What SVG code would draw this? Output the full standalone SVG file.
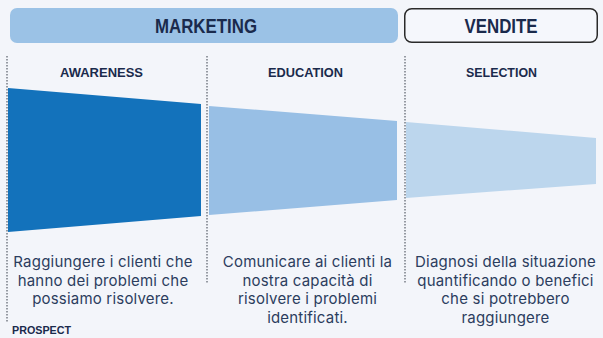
<svg xmlns="http://www.w3.org/2000/svg" width="603" height="338" viewBox="0 0 603 338">
<style>
.hdr{font-family:"Liberation Sans",Arial,sans-serif;font-weight:bold;fill:#1a2a4c;text-anchor:middle}
.big{font-size:20px}
.sub{font-size:13px}
.body{font-family:Inter,Roboto,"Liberation Sans",sans-serif;font-size:15px;letter-spacing:0.2px;fill:#2c3d5e;text-anchor:middle}
.dot{stroke:#777c85;stroke-width:1.5;stroke-dasharray:1.5 1.5;fill:none}
</style>
<rect x="0" y="0" width="603" height="338" fill="#f3f5fa"/>
<g id="marketing">
<rect x="10" y="8" width="388" height="35" rx="7" fill="#9bc2e6"/>
<text class="hdr big" x="206" y="33" textLength="102" lengthAdjust="spacingAndGlyphs">MARKETING</text>
</g>
<g id="vendite">
<rect x="404.75" y="8.75" width="192.5" height="33.5" rx="7" fill="#f5f7fc" stroke="#2a2a2a" stroke-width="1.5"/>
<text class="hdr big" x="501" y="33" textLength="73" lengthAdjust="spacingAndGlyphs">VENDITE</text>
</g>
<g id="dividers">
<line class="dot" x1="7" y1="56" x2="7" y2="323"/>
<line class="dot" x1="207" y1="56" x2="207" y2="283"/>
<line class="dot" x1="405" y1="56" x2="405" y2="283"/>
</g>
<g id="awareness">
<text class="hdr sub" x="101.5" y="76.5" textLength="83" lengthAdjust="spacingAndGlyphs">AWARENESS</text>
<polygon points="8,88 201,104 201,216 8,232" fill="#1372bb"/>
<text class="body" x="103" y="267">Raggiungere i clienti che</text>
<text class="body" x="103" y="285.5">hanno dei problemi che</text>
<text class="body" x="103" y="304">possiamo risolvere.</text>
</g>
<g id="education">
<text class="hdr sub" x="305.5" y="76.5" textLength="75" lengthAdjust="spacingAndGlyphs">EDUCATION</text>
<polygon points="209,106 397,121 397,200 209,215" fill="#98bfe5"/>
<text class="body" x="307.5" y="267">Comunicare ai clienti la</text>
<text class="body" x="307.5" y="285.5">nostra capacità di</text>
<text class="body" x="307.5" y="304">risolvere i problemi</text>
<text class="body" x="307.5" y="322.5">identificati.</text>
</g>
<g id="selection">
<text class="hdr sub" x="501.5" y="76.5" textLength="71" lengthAdjust="spacingAndGlyphs">SELECTION</text>
<polygon points="406,122 596,138 596,184 406,198" fill="#bcd6ed"/>
<text class="body" x="505.5" y="267">Diagnosi della situazione</text>
<text class="body" x="505.5" y="285.5">quantificando o benefici</text>
<text class="body" x="505.5" y="304">che si potrebbero</text>
<text class="body" x="505.5" y="322.5">raggiungere</text>
</g>
<g id="prospect">
<text class="hdr" style="font-size:10.5px;text-anchor:start" x="12" y="334" textLength="59" lengthAdjust="spacingAndGlyphs">PROSPECT</text>
</g>
</svg>
